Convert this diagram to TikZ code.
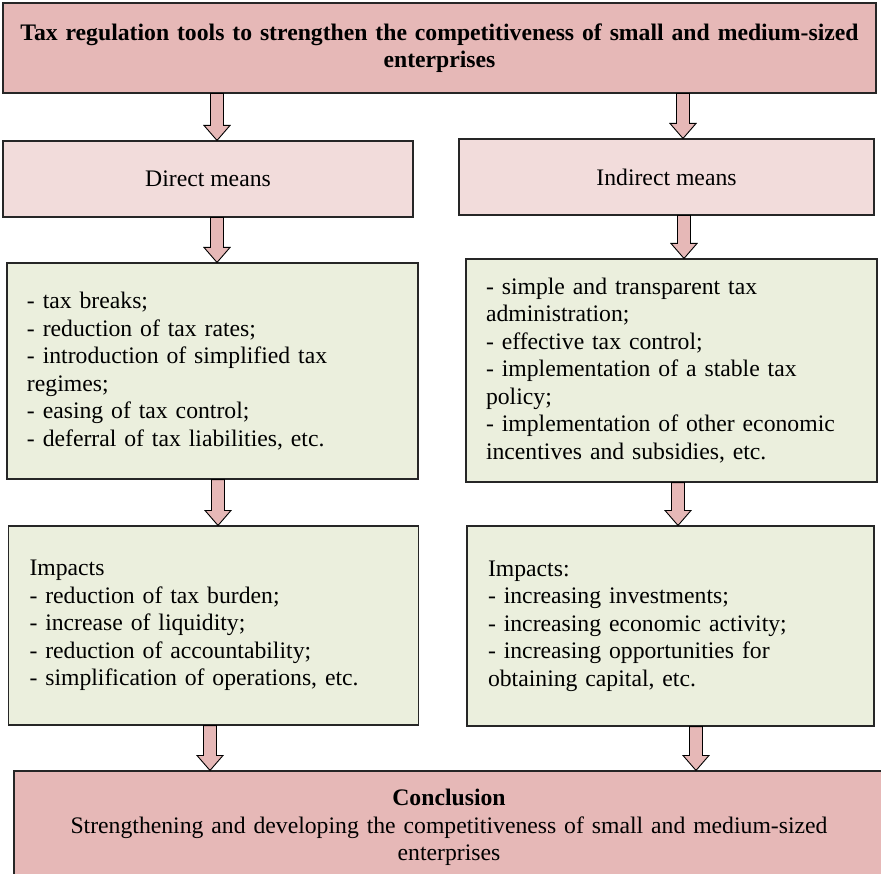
\documentclass[tikz,border=0pt]{standalone}
\usepackage{fontspec}
\setmainfont{Liberation Serif}
\usetikzlibrary{calc}

\definecolor{headpink}{HTML}{E6B8B7}
\definecolor{softpink}{HTML}{F2DCDB}
\definecolor{sage}{HTML}{EBEFDD}

\tikzset{
  txt/.style={font=\fontsize{23.7}{27.5}\selectfont},
  box/.style={txt, draw=black!85, line width=1.1pt, rectangle, inner ysep=4pt},
  listbox/.style={box, fill=sage, align=left, inner xsep=20pt},
  blockarrow/.style={draw=black, line width=0.9pt, fill=headpink, line join=miter,
    to path={let \p1=(\tikztostart), \p2=(\tikztotarget) in
      (\x1-6.5pt,\y1) -- (\x1-6.5pt,\y2+15pt) -- (\x1-13pt,\y2+15pt) -- (\x1,\y2)
      -- (\x1+13pt,\y2+15pt) -- (\x1+6.5pt,\y2+15pt) -- (\x1+6.5pt,\y1) -- cycle}}
}

\begin{document}
\begin{tikzpicture}[x=1pt,y=-1pt]
  \clip (0,0) rectangle (881,874);
  \fill[white] (0,0) rectangle (881,874);

  % heading
  \node[box, fill=headpink, align=center, minimum width=873pt, minimum height=90pt,
        text width=860pt, font=\fontsize{23.7}{27.5}\selectfont\bfseries]
    (top) at (439.5,48)
    {Tax regulation tools to strengthen the competitiveness of small and medium-sized\\enterprises};

  % two kinds of means
  \node[box, fill=softpink, minimum width=410pt, minimum height=76pt]
    (direct) at (208,179) {Direct means};
  \node[box, fill=softpink, minimum width=415pt, minimum height=76pt]
    (indirect) at (666.5,177) {Indirect means};

  % instruments
  \node[listbox, minimum width=411pt, minimum height=216pt, text width=371pt]
    (listL) at (212.5,371)
    {- tax breaks;\\
     - reduction of tax rates;\\
     - introduction of simplified tax\\
     regimes;\\
     - easing of tax control;\\
     - deferral of tax liabilities, etc.};
  \node[listbox, minimum width=411pt, minimum height=223pt, text width=371pt]
    (listR) at (671.5,370.5)
    {- simple and transparent tax\\
     administration;\\
     - effective tax control;\\
     - implementation of a stable tax\\
     policy;\\
     - implementation of other economic\\
     incentives and subsidies, etc.};

  % impacts
  \node[listbox, minimum width=409pt, minimum height=199pt, text width=368pt, inner xsep=21pt]
    (impL) at (213.5,625.5)
    {Impacts\\
     - reduction of tax burden;\\
     - increase of liquidity;\\
     - reduction of accountability;\\
     - simplification of operations, etc.};
  \node[listbox, minimum width=407pt, minimum height=200pt, text width=365pt, inner xsep=21pt]
    (impR) at (670.5,626)
    {Impacts:\\
     - increasing investments;\\
     - increasing economic activity;\\
     - increasing opportunities for\\
     obtaining capital, etc.};

  % conclusion
  \node[box, fill=headpink, align=center, minimum width=870pt, minimum height=113pt,
        text width=850pt]
    (concl) at (449,827.5)
    {\textbf{Conclusion}\\
     Strengthening and developing the competitiveness of small and medium-sized\\
     enterprises};

  % block arrows
  \draw[blockarrow] (217,0 |- top.south) to (217,0 |- direct.north);
  \draw[blockarrow] (683,0 |- top.south) to (683,0 |- indirect.north);
  \draw[blockarrow] (217,0 |- direct.south) to (217,0 |- listL.north);
  \draw[blockarrow] (684,0 |- indirect.south) to (684,0 |- listR.north);
  \draw[blockarrow] (218,0 |- listL.south) to (218,0 |- impL.north);
  \draw[blockarrow] (678,0 |- listR.south) to (678,0 |- impR.north);
  \draw[blockarrow] (210,0 |- impL.south) to (210,0 |- concl.north);
  \draw[blockarrow] (696,0 |- impR.south) to (696,0 |- concl.north);
\end{tikzpicture}
\end{document}
